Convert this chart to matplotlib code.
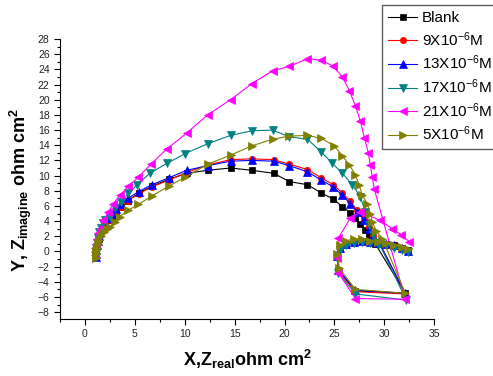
import matplotlib
matplotlib.use("Agg")
import matplotlib.pyplot as plt
from matplotlib.ticker import MultipleLocator

plt.rcParams["font.family"] = ["Liberation Sans", "DejaVu Sans"]
plt.rcParams["mathtext.fontset"] = "custom"
plt.rcParams["mathtext.rm"] = "Liberation Sans"
plt.rcParams["mathtext.it"] = "Liberation Sans:italic"
plt.rcParams["mathtext.bf"] = "Liberation Sans:bold"

# Datos (Nyquist)
etiquetas = ["Blank", r"9X10$^{-6}$M", r"13X10$^{-6}$M",
             r"17X10$^{-6}$M", r"21X10$^{-6}$M", r"5X10$^{-6}$M"]

blank_x = [1.15, 1.12, 1.14, 1.2, 1.28, 1.4, 1.55, 1.75, 2.0, 2.3, 2.7, 3.1, 3.6, 4.3,
           5.4, 6.7, 8.4, 10.2, 12.3, 14.6, 16.7, 18.9, 20.5, 22.3, 23.7, 24.9, 25.8,
           26.6, 27.1, 27.6, 28.1, 28.5, 29.1,
           32.1, 27.1, 25.4, 25.3, 25.6, 26.2, 27.0, 27.8, 28.6, 29.4, 30.2, 31.0, 31.8, 32.4]
blank_y = [-0.7, -0.3, 0.2, 0.7, 1.2, 1.7, 2.3, 2.9, 3.5, 4.1, 4.7, 5.3, 5.9, 6.7,
           7.7, 8.6, 9.5, 10.3, 10.7, 11.0, 10.7, 10.3, 9.2, 8.8, 7.7, 6.9, 5.9,
           5.1, 4.4, 3.6, 2.8, 2.0, 1.0,
           -5.5, -5.2, -2.5, -0.6, 0.4, 1.0, 1.3, 1.35, 1.3, 1.2, 1.0, 0.8, 0.5, 0.2]

c9_x = [1.15, 1.12, 1.14, 1.2, 1.28, 1.4, 1.55, 1.75, 2.0, 2.3, 2.7, 3.1, 3.6, 4.3,
        5.4, 6.7, 8.4, 10.2, 12.3, 14.6, 16.7, 18.9, 20.5, 22.3, 23.7, 24.9, 25.8,
        26.6, 27.3, 28.0, 28.5, 28.9, 29.5,
        32.1, 27.1, 25.4, 25.3, 25.6, 26.2, 27.0, 27.8, 28.6, 29.4, 30.2, 31.0, 31.8, 32.4]
c9_y = [-0.7, -0.3, 0.2, 0.7, 1.2, 1.8, 2.4, 3.0, 3.5, 4.1, 4.7, 5.3, 5.9, 6.7,
        7.6, 8.5, 9.4, 10.4, 11.4, 12.1, 12.2, 12.1, 11.5, 10.8, 9.7, 8.8, 7.7,
        6.6, 5.4, 4.3, 3.2, 2.1, 1.2,
        -5.6, -5.3, -2.6, -0.7, 0.3, 0.9, 1.2, 1.3, 1.2, 1.1, 0.9, 0.7, 0.4, 0.1]

c13_x = [1.15, 1.12, 1.14, 1.2, 1.28, 1.4, 1.55, 1.75, 2.0, 2.3, 2.7, 3.1, 3.6, 4.3,
         5.4, 6.7, 8.4, 10.2, 12.3, 14.6, 16.7, 18.9, 20.5, 22.3, 23.7, 24.9, 25.8,
         26.6, 27.3, 28.0, 28.5, 28.9, 29.5,
         32.1, 27.1, 25.4, 25.3, 25.6, 26.2, 27.0, 27.8, 28.6, 29.4, 30.2, 31.0, 31.8, 32.4]
c13_y = [-0.7, -0.3, 0.2, 0.8, 1.4, 2.0, 2.6, 3.2, 3.8, 4.4, 5.0, 5.6, 6.2, 7.0,
         7.9, 8.8, 9.7, 10.7, 11.3, 11.9, 12.0, 11.9, 11.3, 10.5, 9.4, 8.5, 7.4,
         6.3, 5.2, 4.1, 3.0, 2.0, 1.1,
         -5.5, -5.1, -2.4, -0.6, 0.4, 1.0, 1.3, 1.4, 1.3, 1.2, 1.0, 0.8, 0.5, 0.1]

c17_x = [1.1, 1.1, 1.15, 1.2, 1.3, 1.45, 1.6, 1.8, 2.05, 2.5, 3.0, 3.6, 4.35, 5.2,
         6.5, 8.2, 10.05, 12.3, 14.6, 16.7, 18.8, 20.5, 22.3, 23.7, 24.8, 25.8,
         26.8, 27.6, 28.1, 28.5, 28.9, 29.5,
         32.2, 27.1, 25.4, 25.3, 25.6, 26.2, 27.0, 27.8, 28.6, 29.4, 30.2, 31.0, 31.8, 32.4]
c17_y = [-0.7, -0.2, 0.4, 1.1, 1.8, 2.5, 3.1, 3.7, 4.2, 4.6, 5.7, 6.5, 7.65, 8.75,
         10.3, 11.6, 12.9, 14.2, 15.3, 15.9, 16.0, 15.1, 14.8, 13.1, 11.6, 10.3,
         8.8, 7.2, 5.2, 3.5, 2.2, 1.0,
         -6.4, -5.6, -2.8, -0.9, 0.2, 0.8, 1.1, 1.2, 1.1, 1.0, 0.8, 0.5, 0.2, -0.1]

c21_x = [1.0, 1.0, 1.05, 1.1, 1.17, 1.3, 1.5, 1.84, 2.35, 2.85, 3.5, 4.36, 5.36, 6.6,
         8.2, 10.2, 12.3, 14.6, 16.7, 18.8, 20.5, 22.3, 23.7, 24.9, 25.8, 26.5,
         27.1, 27.6, 28.0, 28.4, 28.6, 28.8, 29.0,
         32.1, 27.1, 25.4, 25.3, 25.4, 26.6, 27.6, 29.6, 30.8, 31.7, 32.5]
c21_y = [-0.5, -0.1, 0.4, 1.0, 1.7, 2.4, 3.0, 4.1, 5.2, 6.3, 7.4, 8.6, 9.8, 11.5,
         13.5, 15.6, 18.0, 20.0, 22.1, 23.8, 24.4, 25.4, 25.2, 24.4, 23.0, 21.2,
         19.2, 17.2, 15.0, 13.0, 11.4, 9.8, 8.2,
         -6.3, -6.2, -2.8, -0.8, 1.8, 4.4, 5.2, 4.1, 3.0, 2.2, 1.3]

c5_x = [1.15, 1.12, 1.15, 1.2, 1.3, 1.45, 1.65, 1.9, 2.2, 2.5, 3.0, 3.5, 4.3, 5.36,
        6.7, 8.4, 10.05, 12.3, 14.6, 16.7, 18.8, 20.5, 22.3, 23.7, 25.0, 25.8,
        26.5, 27.1, 27.5, 27.8, 28.3, 28.6, 28.8, 29.2, 29.8,
        32.1, 27.1, 25.5, 25.3, 25.6, 26.2, 27.0, 27.8, 28.6, 29.4, 30.2, 31.0, 31.8, 32.4]
c5_y = [-0.8, -0.4, 0.0, 0.5, 1.0, 1.5, 2.0, 2.5, 2.9, 3.2, 3.9, 4.6, 5.4, 6.2,
        7.3, 8.6, 9.8, 11.5, 12.7, 13.9, 14.8, 15.2, 15.3, 14.9, 13.9, 12.6,
        11.4, 10.1, 8.7, 7.4, 6.3, 5.0, 3.9, 2.7, 1.7,
        -5.5, -5.0, -2.2, -0.3, 0.8, 1.4, 1.7, 1.6, 1.4, 1.3, 1.1, 0.9, 0.6, 0.3]

series = [(blank_x, blank_y, "black", "s", 4.5),
          (c9_x, c9_y, "red", "o", 4.5),
          (c13_x, c13_y, "blue", "^", 6),
          (c17_x, c17_y, "#008080", "v", 6),
          (c21_x, c21_y, "magenta", "<", 6),
          (c5_x, c5_y, "#808000", ">", 6)]

fig = plt.figure(figsize=(4.93, 3.76), dpi=100)
ax = fig.add_axes([0.1217, 0.1516, 0.759, 0.7447])

for (x, y, color, marker, ms), etiqueta in zip(series, etiquetas):
    ax.plot(x, y, color=color, marker=marker, markersize=ms, linewidth=0.8,
            markeredgewidth=0.5, label=etiqueta)

ax.set_xlim(-2.5, 35)
ax.set_ylim(-8.9, 28)
ax.xaxis.set_major_locator(MultipleLocator(5))
ax.xaxis.set_minor_locator(MultipleLocator(2.5))
ax.yaxis.set_major_locator(MultipleLocator(2))
ax.yaxis.set_minor_locator(MultipleLocator(1))
ax.set_xticks(range(0, 36, 5))
ax.set_yticks(range(-8, 29, 2))

ax.spines["top"].set_visible(False)
ax.spines["right"].set_visible(False)
ax.tick_params(which="major", direction="out", length=4, width=0.8,
               labelsize=7.5, labelcolor="#222222")
ax.tick_params(which="minor", direction="out", length=2.5, width=0.8)

ax.set_xlabel(r"X,Z$_{\mathbf{real}}$ohm cm$^{\mathbf{2}}$", fontsize=13, fontweight="bold")
ax.set_ylabel(r"Y, Z$_{\mathbf{imagine}}$ ohm cm$^{\mathbf{2}}$", fontsize=13, fontweight="bold")
ax.xaxis.set_label_coords(0.5, -0.105)
ax.yaxis.set_label_coords(-0.07, 0.46)

leg = fig.legend(loc="upper left", bbox_to_anchor=(0.775, 0.987), fontsize=11,
                 frameon=True, fancybox=False, edgecolor="#333333",
                 handlelength=1.9, handletextpad=0.3, labelspacing=0.33,
                 borderpad=0.4, borderaxespad=0)
leg.get_frame().set_linewidth(1.0)

plt.savefig("out.png", dpi=100)
plt.close()
